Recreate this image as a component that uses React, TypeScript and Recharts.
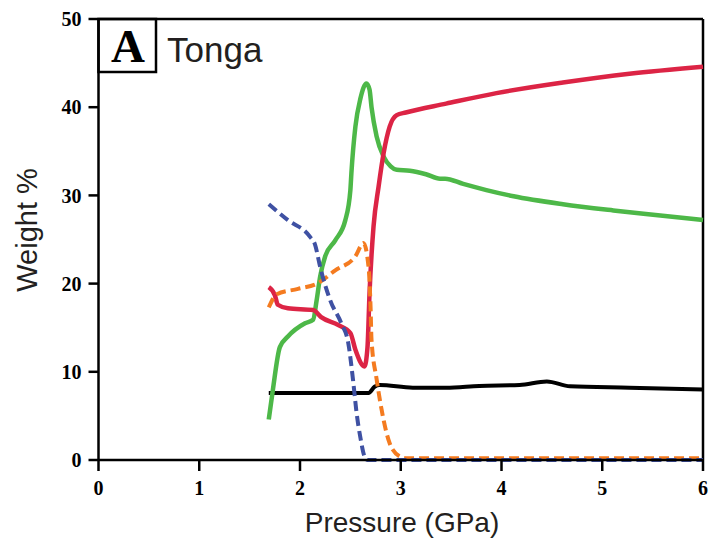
import {
  LineChart,
  Line,
  XAxis,
  YAxis,
  ReferenceLine,
  Customized,
} from "recharts";

// pressure (GPa) vs weight %
const xTicks = [0, 1, 2, 3, 4, 5, 6];
const yTicks = [0, 10, 20, 30, 40, 50];

const blackCurve = [
  { p: 1.69, w: 7.6 }, { p: 2.68, w: 7.6 }, { p: 2.74, w: 8.3 }, { p: 2.79, w: 8.5 },
  { p: 3.12, w: 8.2 }, { p: 3.45, w: 8.2 }, { p: 3.78, w: 8.4 }, { p: 4.18, w: 8.5 },
  { p: 4.45, w: 8.9 }, { p: 4.68, w: 8.35 }, { p: 5.27, w: 8.2 }, { p: 6.0, w: 8.0 },
];

const greenCurve = [
  { p: 1.69, w: 4.6 }, { p: 1.73, w: 7.9 }, { p: 1.8, w: 12.8 }, { p: 1.88, w: 14.0 },
  { p: 2.05, w: 15.5 }, { p: 2.13, w: 15.9 }, { p: 2.165, w: 18.1 }, { p: 2.2, w: 20.8 },
  { p: 2.25, w: 23.1 }, { p: 2.35, w: 24.9 }, { p: 2.45, w: 27.2 }, { p: 2.5, w: 30.6 },
  { p: 2.51, w: 32.5 }, { p: 2.55, w: 37.8 }, { p: 2.6, w: 41.0 }, { p: 2.66, w: 42.7 },
  { p: 2.69, w: 42.0 }, { p: 2.71, w: 40.0 }, { p: 2.76, w: 36.7 }, { p: 2.83, w: 34.4 },
  { p: 2.9, w: 33.3 }, { p: 2.96, w: 32.9 }, { p: 3.09, w: 32.8 }, { p: 3.25, w: 32.4 },
  { p: 3.39, w: 31.9 }, { p: 3.44, w: 31.9 }, { p: 3.62, w: 31.3 }, { p: 3.85, w: 30.6 },
  { p: 4.12, w: 29.9 }, { p: 4.61, w: 29.0 }, { p: 5.11, w: 28.3 }, { p: 5.6, w: 27.7 },
  { p: 6.0, w: 27.2 },
];

const redCurve = [
  { p: 1.69, w: 19.6 }, { p: 1.75, w: 18.7 }, { p: 1.78, w: 17.6 }, { p: 1.88, w: 17.2 },
  { p: 2.13, w: 17.0 }, { p: 2.21, w: 16.2 }, { p: 2.38, w: 15.3 }, { p: 2.5, w: 14.4 },
  { p: 2.55, w: 12.5 }, { p: 2.64, w: 10.6 }, { p: 2.67, w: 12.8 }, { p: 2.69, w: 18.9 },
  { p: 2.73, w: 26.5 }, { p: 2.78, w: 31.0 }, { p: 2.83, w: 34.8 }, { p: 2.89, w: 37.8 },
  { p: 2.96, w: 39.1 }, { p: 3.05, w: 39.4 }, { p: 3.45, w: 40.4 }, { p: 3.95, w: 41.6 },
  { p: 4.61, w: 42.8 }, { p: 5.27, w: 43.8 }, { p: 6.0, w: 44.6 },
];

const orangeCurve = [
  { p: 1.69, w: 17.3 }, { p: 1.77, w: 18.8 }, { p: 1.98, w: 19.4 }, { p: 2.17, w: 20.0 },
  { p: 2.35, w: 21.5 }, { p: 2.55, w: 23.1 }, { p: 2.63, w: 24.6 }, { p: 2.68, w: 21.9 },
  { p: 2.7, w: 17.5 }, { p: 2.71, w: 13.6 }, { p: 2.76, w: 9.2 }, { p: 2.81, w: 5.7 },
  { p: 2.89, w: 1.9 }, { p: 2.99, w: 0.4 }, { p: 3.05, w: 0.2 }, { p: 6.0, w: 0.2 },
];

const blueCurve = [
  { p: 1.69, w: 29.0 }, { p: 1.88, w: 27.2 }, { p: 2.1, w: 25.3 }, { p: 2.15, w: 24.4 },
  { p: 2.2, w: 21.9 }, { p: 2.3, w: 18.1 }, { p: 2.41, w: 15.5 }, { p: 2.48, w: 13.2 },
  { p: 2.53, w: 8.7 }, { p: 2.56, w: 5.5 }, { p: 2.6, w: 2.5 }, { p: 2.64, w: 0.4 },
  { p: 2.67, w: 0 }, { p: 6.0, w: 0 },
];

const SERIF = "'Liberation Serif', 'Times New Roman', serif";
const SANS = "'Liberation Sans', Arial, Helvetica, sans-serif";

const tickStyle = { fontFamily: SERIF, fontWeight: 700, fontSize: 20, fill: "#000" };

// panel tag "A" box + site name + axis titles
function PanelTag() {
  return (
    <g>
      <rect x={98.5} y={19} width={57.5} height={53} fill="#fff" stroke="#000" strokeWidth={2.5} />
      <text x={128} y={62} textAnchor="middle" fontFamily={SERIF} fontWeight={700} fontSize={47} fill="#000">
        A
      </text>
      <text x={167} y={62} fontFamily={SANS} fontSize={35} fill="#231f20">
        Tonga
      </text>
      <text
        x={37}
        y={230}
        textAnchor="middle"
        transform="rotate(-90, 37, 230)"
        fontFamily={SANS}
        fontSize={29}
        fill="#231f20"
      >
        Weight %
      </text>
      <text x={402} y={532} textAnchor="middle" fontFamily={SANS} fontSize={28} fill="#231f20">
        Pressure (GPa)
      </text>
    </g>
  );
}

export default function App() {
  return (
    <div style={{ position: "absolute", left: 0, top: 0, width: 715, height: 542, background: "#fff" }}>
      <LineChart width={715} height={542} margin={{ top: 19, right: 12, bottom: 0, left: 0.5 }}>
        <XAxis
          dataKey="p"
          type="number"
          domain={[0, 6]}
          ticks={xTicks}
          allowDuplicatedCategory={false}
          height={82}
          tickSize={11}
          tickMargin={10}
          stroke="#000"
          strokeWidth={2.5}
          tick={tickStyle}
          tickLine={{ stroke: "#000", strokeWidth: 2.5 }}
        />
        <YAxis
          dataKey="w"
          type="number"
          domain={[0, 50]}
          ticks={yTicks}
          width={98}
          tickSize={10}
          tickMargin={7}
          stroke="#000"
          strokeWidth={2.5}
          tick={tickStyle}
          tickLine={{ stroke: "#000", strokeWidth: 2.5 }}
        />
        <ReferenceLine y={50} stroke="#000" strokeWidth={2.5} />
        <ReferenceLine x={6} stroke="#000" strokeWidth={2.5} />
        <Line data={blackCurve} dataKey="w" type="monotone" stroke="#000" strokeWidth={4} dot={false} isAnimationActive={false} />
        <Line data={greenCurve} dataKey="w" type="monotone" stroke="#4db848" strokeWidth={4.5} dot={false} isAnimationActive={false} />
        <Line data={redCurve} dataKey="w" type="monotone" stroke="#dc2445" strokeWidth={4.5} dot={false} isAnimationActive={false} />
        <Line data={orangeCurve} dataKey="w" type="monotone" stroke="#f47b20" strokeWidth={4} strokeDasharray="10 5" dot={false} isAnimationActive={false} />
        <Line data={blueCurve} dataKey="w" type="monotone" stroke="#3f51a3" strokeWidth={4} strokeDasharray="10 5" dot={false} isAnimationActive={false} />
        <Customized component={PanelTag} />
      </LineChart>
    </div>
  );
}
